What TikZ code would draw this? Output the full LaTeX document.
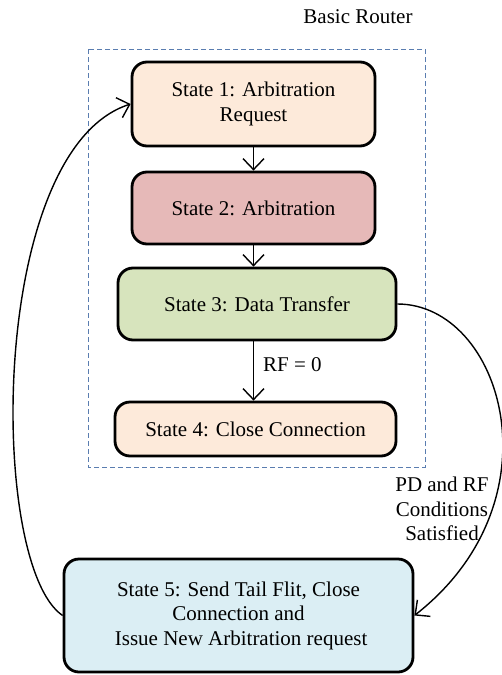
\documentclass[tikz,border=0pt]{standalone}
\usepackage{fontspec}
\setmainfont{Liberation Serif}
\usetikzlibrary{arrows.meta}
\definecolor{peach}{HTML}{FDEADA}
\definecolor{rose}{HTML}{E6B9B8}
\definecolor{sage}{HTML}{D7E4BD}
\definecolor{skyb}{HTML}{DBEEF4}
\definecolor{dashc}{HTML}{5A7DB0}
\tikzset{
  statebox/.style={draw=black, line width=2.8pt, rounded corners=15pt, align=center,
    inner sep=0pt, font=\fontsize{21}{24.5}\selectfont},
  conn/.style={line width=1.4pt, -{Straight Barb[length=11pt,width=21pt,line width=1.4pt]}},
  lbl/.style={font=\fontsize{21}{24.5}\selectfont, align=center, inner sep=0pt},
}
\begin{document}
\begin{tikzpicture}[x=1pt,y=-1pt]
\useasboundingbox (0,0) rectangle (502,675);
\node[lbl] (title) at (358,17) {Basic Router};
\draw[dashc, line width=1pt, dash pattern=on 5pt off 3pt] (88,49) rectangle (425,467);
\node[statebox, fill=peach, minimum width=243pt, minimum height=84pt] (s1) at (253.5,104) {State 1: Arbitration\\Request};
\node[statebox, fill=rose, minimum width=243pt, minimum height=72pt] (s2) at (253.5,208) {State 2: Arbitration};
\node[statebox, fill=sage, minimum width=278pt, minimum height=72pt] (s3) at (257,304) {State 3: Data Transfer};
\node[statebox, fill=peach, minimum width=281pt, minimum height=54pt] (s4) at (255.5,429) {State 4: Close Connection};
\node[statebox, fill=skyb, minimum width=349pt, minimum height=113pt] (s5) at (238.5,615.5) {State 5: Send Tail Flit, Close\\Connection and\\\ Issue New Arbitration request};
\draw[conn] (s1.south) -- (s2.south |- s2.north);
\draw[conn] (s2.south) -- (s2.south |- s3.north);
\draw[conn] (s2.south |- s3.south) -- (s2.south |- s4.north);
\node[lbl, anchor=west] (rf) at (263,365) {RF = 0};
\node[lbl] (pd) at (442,509) {PD and RF\\Conditions\\Satisfied};
\draw[conn] (s5.west) .. controls (-12,565) and (-12,150) .. (s1.west);
\draw[conn] (s3.east) .. controls (502,304) and (562,500) .. (s5.east);
\end{tikzpicture}
\end{document}
